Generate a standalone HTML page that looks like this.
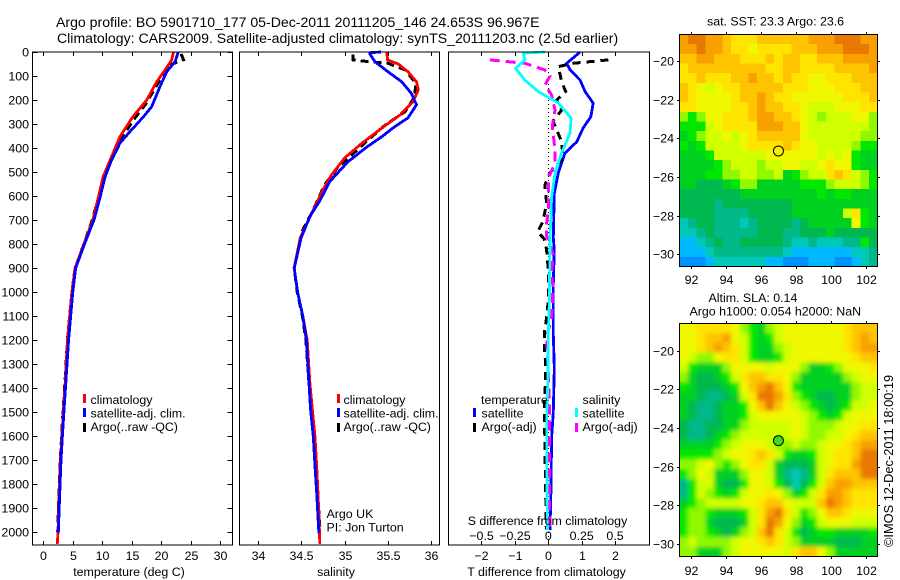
<!DOCTYPE html>
<html>
<head>
<meta charset="utf-8">
<title>Argo profile</title>
<style>
html,body{margin:0;padding:0;background:#fff;}
svg{display:block;}
text{font-family:"Liberation Sans",sans-serif;font-size:12.4px;fill:#000;}
</style>
</head>
<body>
<svg id="chart" xmlns="http://www.w3.org/2000/svg" width="900" height="580" viewBox="0 0 900 580">
<defs>
<filter id="soften" x="0" y="0" width="1" height="1"><feGaussianBlur stdDeviation="2"/></filter>
<clipPath id="sla-clip"><rect x="679.5" y="323.5" width="198" height="233"/></clipPath>
</defs>
<rect x="0" y="0" width="900" height="580" fill="#fff"/>
<g id="maps"></g>
<g id="marks"></g>
<g id="axes"></g>
<text style="font-size:14.1px" x="56" y="27">Argo profile: BO 5901710_177 05-Dec-2011 20111205_146 24.653S 96.967E</text>
<text style="font-size:14.1px" x="57" y="43">Climatology: CARS2009. Satellite-adjusted climatology: synTS_20111203.nc (2.5d earlier)</text>
<text x="129" y="576" text-anchor="middle">temperature (deg C)</text>
<text x="336" y="576" text-anchor="middle">salinity</text>
<text x="547.5" y="525" text-anchor="middle">S difference from climatology</text>
<text x="546.5" y="576" text-anchor="middle">T difference from climatology</text>
<g>
<rect x="83" y="394" width="3" height="9" fill="#f00"/>
<text x="90.5" y="404">climatology</text>
<rect x="83" y="408" width="3" height="9" fill="#00f"/>
<text x="90.5" y="417.5">satellite-adj. clim.</text>
<rect x="83" y="423" width="3" height="9" fill="#000"/>
<text x="90.5" y="431">Argo(..raw -QC)</text>
</g>
<g>
<rect x="337" y="394" width="3" height="9" fill="#f00"/>
<text x="343.5" y="404">climatology</text>
<rect x="337" y="408" width="3" height="9" fill="#00f"/>
<text x="343.5" y="417.5">satellite-adj. clim.</text>
<rect x="337" y="423" width="3" height="9" fill="#000"/>
<text x="343.5" y="431">Argo(..raw -QC)</text>
</g>
<g>
<text x="481" y="404">temperature</text>
<rect x="473" y="408" width="3" height="9" fill="#00f"/>
<text x="481.5" y="417.5">satellite</text>
<rect x="473" y="423" width="3" height="9" fill="#000"/>
<text x="481.5" y="431">Argo(-adj)</text>
<text x="582.5" y="404">salinity</text>
<rect x="575" y="408" width="3" height="9" fill="#0ff"/>
<text x="582.5" y="417.5">satellite</text>
<rect x="575" y="423" width="3" height="9" fill="#f0f"/>
<text x="582.5" y="431">Argo(-adj)</text>
</g>
<text x="326.5" y="518">Argo UK</text>
<text x="326.5" y="531.5">PI: Jon Turton</text>
<text x="707" y="25.5">sat. SST: 23.3 Argo: 23.6</text>
<text x="708.5" y="302">Altim. SLA: 0.14</text>
<text x="689.5" y="315.5">Argo h1000: 0.054 h2000: NaN</text>
<text style="font-size:12.8px" transform="translate(893 547) rotate(-90)">©IMOS 12-Dec-2011 18:00:19</text>
</svg>
<script>
// ---- tick labels ----
const depthTicks = [0,100,200,300,400,500,600,700,800,900,1000,1100,1200,1300,1400,1500,1600,1700,1800,1900,2000];
const tempTicks = [0,5,10,15,20,25,30];
const salTicks = [34,34.5,35,35.5,36];
const salTickLabels = ['34','34.5','35','35.5','36'];
const tDiffTicks = [-2,-1,0,1,2];
const sDiffTicks = [-0.5,-0.25,0,0.25,0.5];
const sDiffTickLabels = ['\u22120.5','\u22120.25','0','0.25','0.5'];
const lonTicks = [92,94,96,98,100,102];
const latTicks = [-20,-22,-24,-26,-28,-30];

// ---- temperature profiles ----
const tempClimDepth = [0,33,75,124,200,270,353,436,520,610,700,800,900,1000,1200,1367,1500,1600,1700,1800,1900,2000,2050];
const tempClimValues = [22.1,21.8,20.66,19.25,17.55,15.2,13.0,11.6,10.15,9.3,8.4,6.9,5.4,4.85,4.1,3.75,3.4,3.15,2.9,2.78,2.62,2.5,2.38];
const tempSatDepth = [0,40,82,145,228,270,332,380,450,520,610,700,800,900,1000,1200,1367,1500,1600,1700,1800,1900,2005];
const tempSatValues = [22.9,22.4,20.95,19.8,18.4,17,14.7,13,11.6,10.5,9.6,8.6,7.0,5.5,5.0,4.3,3.85,3.5,3.25,3.0,2.85,2.7,2.55];
const tempArgoDepth = [8,32,54,90,150,220,283,345,420,490,560,700,800,900,1000,1200,1367,1500,1600,1700,1800,1900,2000];
const tempArgoValues = [23.4,23.8,21.5,20.4,19,17.3,15.3,13.7,12.2,10.8,9.9,8.3,6.9,5.4,4.85,4.1,3.7,3.35,3.1,2.88,2.72,2.58,2.45];

// ---- salinity profiles ----
const salClimDepth = [0,33,50,82,124,158,207,262,317,380,442,512,575,658,775,900,1000,1100,1200,1374,1492,1603,1728,1838,1978,2050];
const salClimValues = [35.486,35.497,35.62,35.73,35.83,35.85,35.79,35.64,35.43,35.2,35.0,34.85,34.75,34.64,34.49,34.42,34.46,34.52,34.57,34.6,34.63,34.66,34.68,34.695,34.71,34.715];
const salSatDepth = [0,3,8,40,82,124,172,220,275,311,353,395,457,540,617,686,775,900,1000,1100,1200,1374,1492,1603,1728,1838,1978,2005];
const salSatValues = [35.42,35.29,35.29,35.35,35.5,35.66,35.77,35.83,35.73,35.58,35.43,35.26,35.04,34.83,34.72,34.6,34.5,34.42,34.46,34.52,34.56,34.59,34.61,34.64,34.66,34.68,34.7,34.705];
const salArgoDepth = [10,33,40,47,75,130,186,248,304,367,430,478,554,665,741,900,1000,1100,1200,1374,1492,1603,1728,1838,1978];
const salArgoValues = [35.1,35.1,35.27,35.5,35.7,35.82,35.81,35.7,35.47,35.27,35.08,34.93,34.77,34.63,34.52,34.42,34.455,34.515,34.555,34.59,34.615,34.65,34.67,34.69,34.715];

// ---- difference profiles ----
const tDiffSatDepth = [0,47,75,117,165,213,270,317,374,421,504,587,775,825,967,1175,1317,1500,1608,1817,1992];
const tDiffSatValues = [0.95,0.55,0.65,0.95,1.1,1.34,1.27,1.04,0.85,0.5,0.3,0.18,0.15,0.18,0.15,0.15,0.18,0.15,0.1,0.08,0.05];
const tDiffArgoDepth = [33,47,61,124,165,200,242,288,374,442,504,554,630,707,749,779,825,908,1033,1108,1171,1228,1296,1379,1408,1496,1620,1825,1990];
const tDiffArgoValues = [1.79,0.74,0.3,0.4,0.52,0.25,0.4,0.14,0.4,0.44,0.05,-0.1,-0.05,-0.16,-0.32,-0.12,-0.05,0,0,-0.05,-0.12,-0.12,-0.08,-0.08,-0.1,-0.12,-0.1,-0.08,-0.06];
const sDiffSatDepth = [0,5,33,68,117,165,213,275,338,421,504,604,775,1033,1175,1383,1508,1700,1992];
const sDiffSatValues = [-0.025,-0.188,-0.175,-0.245,-0.175,-0.075,0.075,0.17,0.163,0.1,0.05,0.025,0.013,0.008,0,-0.004,-0.012,-0.012,-0.007];
const sDiffArgoDepth = [33,47,75,100,137,179,242,311,408,463,520,587,658,711,767,846,917,979,1042,1104,1188,1400,1500,1700,1992];
const sDiffArgoValues = [-0.438,-0.175,-0.025,0.013,-0.025,0.025,0.05,0.03,0.05,0.05,0.005,0,0,-0.012,-0.012,0.038,0.025,0.035,0.03,0.025,-0.012,0.005,0.008,0.008,0.012];

// ---- map levels (colour index per half-degree cell, north to south) ----
const sstRows = [
[13,14,14,13,13,12,11,11,11,12,12,12,12,12,12,13,13,13,14,14,14,13,13],
[13,13,14,13,13,12,11,11,10,11,11,11,11,12,12,12,13,13,13,14,14,14,13],
[12,12,13,13,12,12,12,11,11,11,12,11,12,12,11,11,12,12,12,13,13,13,13],
[11,12,12,12,12,12,12,12,12,12,11,11,12,12,11,11,11,11,12,12,12,12,13],
[11,11,12,11,11,11,12,12,13,12,12,11,12,11,11,10,10,11,11,11,12,12,12],
[12,11,10,9,10,11,11,12,12,12,12,12,11,11,11,10,10,10,11,11,11,12,12],
[12,11,10,10,10,10,11,12,12,13,12,11,11,10,10,10,10,10,10,11,11,11,12],
[11,11,10,10,10,10,11,11,12,13,12,12,11,11,10,9,9,9,10,10,10,11,11],
[8,7,8,10,10,11,11,11,12,13,13,12,12,11,10,9,8,9,9,9,10,10,8],
[7,7,7,9,10,11,11,11,11,13,13,13,12,12,10,9,9,9,9,9,9,9,8],
[6,7,8,9,9,10,9,10,11,12,12,12,12,12,10,9,9,9,9,9,9,8,8],
[7,6,7,9,9,9,9,10,11,11,11,11,12,11,10,10,9,9,9,9,8,7,7],
[6,6,6,7,9,9,9,9,9,9,10,10,10,10,10,10,9,10,9,10,7,6,6],
[6,6,6,6,7,8,9,9,9,8,9,9,10,10,9,9,10,11,10,10,7,6,6],
[6,6,6,7,7,8,8,9,9,8,8,9,6,7,8,9,9,11,12,11,9,8,7],
[6,6,5,5,5,6,7,8,8,6,6,6,6,6,7,7,7,8,9,9,9,8,7],
[5,5,5,5,5,5,5,6,6,6,6,6,6,6,6,6,7,6,7,7,6,6,6],
[5,5,5,5,4,5,5,5,5,5,5,5,5,6,6,6,6,6,6,6,6,6,6],
[5,5,5,5,4,4,4,4,5,5,5,5,5,6,6,6,6,6,6,9,11,7,6],
[3,4,5,5,4,4,4,3,4,5,5,5,5,4,5,6,6,6,6,6,10,7,6],
[3,3,4,5,4,4,4,4,4,5,5,5,4,4,5,5,5,6,5,5,5,5,5],
[2,2,3,4,5,4,4,5,5,5,5,5,4,3,3,4,3,3,3,4,4,7,5],
[2,2,2,3,4,4,4,4,4,4,4,4,3,2,2,2,2,2,2,2,3,3,4],
[1,1,1,2,3,3,3,3,3,3,2,2,1,1,1,2,2,2,1,1,2,3,4]
];
const slaRows = [
[10,10,11,11,11,11,10,8,7,6,8,9,10,10,10,10,10,10,10,11,12,12,12],
[10,10,11,12,12,13,10,9,7,6,7,9,10,10,10,10,10,10,10,11,12,13,12],
[10,10,11,12,13,12,11,9,7,6,6,8,9,10,10,10,10,10,10,11,12,13,13],
[10,9,8,8,10,11,11,9,7,6,6,7,9,10,10,10,10,10,10,10,11,12,12],
[9,7,6,6,6,8,10,10,10,10,9,10,10,10,8,6,6,7,8,10,10,10,11],
[8,6,5,5,6,7,9,11,12,12,11,11,10,8,6,6,6,6,6,8,9,10,10],
[7,6,5,5,5,6,7,10,12,13,14,12,10,7,6,6,6,6,6,6,8,9,9],
[6,6,5,4,4,5,6,9,11,14,14,13,11,8,7,6,5,5,6,6,8,9,9],
[6,5,4,4,5,6,6,7,10,12,14,12,10,9,8,7,6,5,6,7,9,9,10],
[6,5,4,4,5,6,6,7,9,10,10,10,10,10,9,8,7,6,7,9,10,10,10],
[5,4,4,5,5,6,6,8,9,9,9,9,9,10,9,8,8,8,9,10,10,11,11],
[5,4,4,5,6,7,8,9,9,9,9,9,9,10,9,8,8,9,9,10,11,12,12],
[6,6,6,6,7,8,9,10,10,10,9,8,8,9,8,8,9,10,10,11,12,13,13],
[7,7,7,7,8,9,10,10,11,12,11,9,7,6,6,7,9,10,11,11,12,14,14],
[8,8,9,10,8,7,8,10,11,11,9,6,5,5,5,6,9,10,11,11,13,14,14],
[7,8,10,9,6,6,6,8,10,10,9,6,4,3,4,6,9,11,12,12,12,14,14],
[4,7,9,9,6,5,5,7,10,10,9,7,5,3,5,7,9,12,13,13,12,12,12],
[4,7,9,8,7,6,7,9,10,10,11,10,8,6,7,9,11,13,13,12,11,11,11],
[6,7,8,9,9,9,9,10,10,11,12,12,10,9,9,9,12,14,13,12,11,11,11],
[7,8,8,7,6,6,6,7,9,11,13,14,11,9,7,8,10,12,12,11,10,10,10],
[7,8,8,6,5,5,5,6,9,11,14,13,10,8,6,7,9,10,10,10,9,9,9],
[7,8,8,7,6,5,6,8,9,12,14,11,9,7,5,6,7,7,6,6,6,6,7],
[8,9,8,8,8,8,9,10,10,11,12,11,9,8,6,6,6,6,5,5,5,6,6],
[8,8,6,6,6,8,9,10,10,10,10,10,9,11,12,12,10,8,6,6,6,6,6]
];
const levelColours = ['#0048e0','#0090ff','#00b8ff','#00c8b8','#00b888','#00b850','#00d020','#00e800','#90f800','#d0ff00','#f0f800','#ffe400','#ffc400','#f8a000','#e87800'];
const argoLon = 96.967;
const argoLat = -24.653;

// ---- axis functions ----
const NS = 'http://www.w3.org/2000/svg';
const marksG = document.getElementById('marks');
const axesG = document.getElementById('axes');
const mapsG = document.getElementById('maps');
function yDepth(d){ return 52 + d * 0.24; }
function xTemp(t){ return 43.3 + t * 5.89; }
function xSal(s){ return 257.7 + (s - 34) * 86.8; }
function xTDiff(t){ return 548.3 + t * 33.5; }
function xSDiff(s){ return 548.3 + s * 133.5; }
function xLon(lon){ return 691 + (lon - 92) * 17.5; }
function ySstLat(lat){ return 61 + (-20 - lat) * 19.33; }
function ySlaLat(lat){ return 350.7 + (-20 - lat) * 19.33; }

function addLine(parent, name, x1, y1, x2, y2, w){
  const el = document.createElementNS(NS, 'line');
  
  
  el.setAttribute('x1', x1); el.setAttribute('y1', y1);
  el.setAttribute('x2', x2); el.setAttribute('y2', y2);
  el.setAttribute('stroke', '#000');
  el.setAttribute('stroke-width', w || 1);
  el.setAttribute('shape-rendering', 'crispEdges');
  parent.appendChild(el);
  return el;
}
function addText(parent, name, x, y, str, anchor){
  const el = document.createElementNS(NS, 'text');
  
  
  el.setAttribute('x', x); el.setAttribute('y', y);
  el.setAttribute('text-anchor', anchor || 'middle');
  el.textContent = str;
  parent.appendChild(el);
  return el;
}
function addFrame(parent, name, x, y, w, h){
  const el = document.createElementNS(NS, 'rect');
  
  
  el.setAttribute('x', x); el.setAttribute('y', y);
  el.setAttribute('width', w); el.setAttribute('height', h);
  el.setAttribute('fill', 'none');
  el.setAttribute('stroke', '#000');
  el.setAttribute('stroke-width', 1);
  el.setAttribute('shape-rendering', 'crispEdges');
  parent.appendChild(el);
}
function addSeries(name, xs, depths, xFn, colour, width, dash){
  const el = document.createElementNS(NS, 'polyline');
  
  
  const pts = [];
  for (let i = 0; i < xs.length; i++) pts.push(xFn(xs[i]).toFixed(1) + ',' + yDepth(depths[i]).toFixed(1));
  el.setAttribute('points', pts.join(' '));
  el.setAttribute('fill', 'none');
  el.setAttribute('stroke', colour);
  el.setAttribute('stroke-width', width);
  if (dash) el.setAttribute('stroke-dasharray', dash);
  el.setAttribute('shape-rendering', 'crispEdges');
  marksG.appendChild(el);
}

// ---- profile series ----
addSeries('temperature-argo-line', tempArgoValues, tempArgoDepth, xTemp, '#000', 3, '8 5');
addSeries('temperature-climatology-line', tempClimValues, tempClimDepth, xTemp, '#f00', 2.8);
addSeries('temperature-satellite-line', tempSatValues, tempSatDepth, xTemp, '#00f', 2.8);
addSeries('salinity-argo-line', salArgoValues, salArgoDepth, xSal, '#000', 3, '8 5');
addSeries('salinity-climatology-line', salClimValues, salClimDepth, xSal, '#f00', 2.8);
addSeries('salinity-satellite-line', salSatValues, salSatDepth, xSal, '#00f', 2.8);

const zeroLine = addLine(marksG, 'zero-difference-line', xTDiff(0), 52, xTDiff(0), 545, 1);
zeroLine.setAttribute('stroke-dasharray', '1 3');
addSeries('t-difference-satellite-line', tDiffSatValues, tDiffSatDepth, xTDiff, '#00f', 2.8);
addSeries('t-difference-argo-line', tDiffArgoValues, tDiffArgoDepth, xTDiff, '#000', 3, '8 6');
addSeries('s-difference-argo-line', sDiffArgoValues, sDiffArgoDepth, xSDiff, '#f0f', 3, '10 6');
addSeries('s-difference-satellite-line', sDiffSatValues, sDiffSatDepth, xSDiff, '#0ff', 2.8);

// ---- profile axes ----
const panelTop = 52, panelBottom = 545;
addFrame(axesG, 'temperature-axes-frame', 32.5, panelTop, 200, panelBottom - panelTop);
addFrame(axesG, 'salinity-axes-frame', 239.5, panelTop, 200, panelBottom - panelTop);
addFrame(axesG, 'difference-axes-frame', 448.5, panelTop, 201, panelBottom - panelTop);
depthTicks.forEach(function(d){
  const y = Math.round(yDepth(d)) + 0.5;
  addLine(axesG, 'depth-tick-left', 32.5, y, 37.5, y);
  addLine(axesG, 'depth-tick-right', 227.5, y, 232.5, y);
  addText(axesG, 'depth-tick-label', 29, y + 4, String(d), 'end');
});
function xTicks(name, ticks, labels, xFn, labelY){
  ticks.forEach(function(t, i){
    const x = Math.round(xFn(t)) + 0.5;
    addLine(axesG, name + '-tick-top', x, panelTop, x, panelTop + 4);
    addLine(axesG, name + '-tick-bottom', x, panelBottom, x, panelBottom - 4);
    addText(axesG, name + '-tick-label', x, labelY, labels[i]);
  });
}
xTicks('temperature', tempTicks, tempTicks.map(String), xTemp, 560);
xTicks('salinity', salTicks, salTickLabels, xSal, 560);
xTicks('t-difference', tDiffTicks, tDiffTicks.map(function(v){ return v < 0 ? '\u2212' + (-v) : String(v); }), xTDiff, 560);
sDiffTicks.forEach(function(t, i){
  addText(axesG, 's-difference-tick-label', xSDiff(t), 540, sDiffTickLabels[i]);
});

// ---- maps ----
function drawCells(parent, name, rows, left, right, top, bottom){
  const nr = rows.length, nc = rows[0].length;
  const cw = (right - left) / nc, ch = (bottom - top) / nr;
  rows.forEach(function(row, r){
    row.forEach(function(v, c){
      const el = document.createElementNS(NS, 'rect');
      
      
      el.setAttribute('x', (left + c * cw).toFixed(2));
      el.setAttribute('y', (top + r * ch).toFixed(2));
      el.setAttribute('width', (cw + 0.6).toFixed(2));
      el.setAttribute('height', (ch + 0.6).toFixed(2));
      el.setAttribute('fill', levelColours[Math.max(0, Math.min(levelColours.length - 1, Math.round(v)))]);
      el.setAttribute('shape-rendering', 'crispEdges');
      parent.appendChild(el);
    });
  });
}
function drawMap(name, rows, yLat, left, right, top, bottom, labelY, markerFill, smooth){
  const base = document.createElementNS(NS, 'g');
  
  
  base.setAttribute('clip-path', 'url(#sla-clip)');
  if (!smooth) base.removeAttribute('clip-path');
  mapsG.appendChild(base);
  drawCells(base, name, rows, left, right, top, bottom);
  if (smooth) {
    const soft = document.createElementNS(NS, 'g');
    
    
    soft.setAttribute('filter', 'url(#soften)');
    base.appendChild(soft);
    drawCells(soft, name, rows, left, right, top, bottom);
  }
  addFrame(mapsG, name + '-frame', left, top, right - left, bottom - top);
  lonTicks.forEach(function(lon){
    const x = Math.round(xLon(lon)) + 0.5;
    addLine(mapsG, name + '-lon-tick-top', x, top - 2.5, x, top);
    addLine(mapsG, name + '-lon-tick-bottom', x, bottom, x, bottom + 2.5);
    addText(mapsG, name + '-lon-label', x, labelY, String(lon));
  });
  latTicks.forEach(function(lat){
    const y = Math.round(yLat(lat)) + 0.5;
    addLine(mapsG, name + '-lat-tick-left', left - 2.5, y, left, y);
    addLine(mapsG, name + '-lat-tick-right', right, y, right + 2.5, y);
    addText(mapsG, name + '-lat-label', 674, y + 4, '\u2212' + (-lat), 'end');
  });
  const m = document.createElementNS(NS, 'circle');
  
  
  m.setAttribute('cx', xLon(argoLon) + 0.5);
  m.setAttribute('cy', yLat(argoLat));
  m.setAttribute('r', 5);
  m.setAttribute('fill', markerFill);
  m.setAttribute('stroke', '#000');
  m.setAttribute('stroke-width', 1);
  mapsG.appendChild(m);
}
drawMap('sst-map', sstRows, ySstLat, 679.5, 877.5, 34.5, 266.5, 284, 'none', false);
drawMap('sla-map', slaRows, ySlaLat, 679.5, 877.5, 323.5, 556.5, 575, '#40d818', true);
</script>
</body>
</html>
